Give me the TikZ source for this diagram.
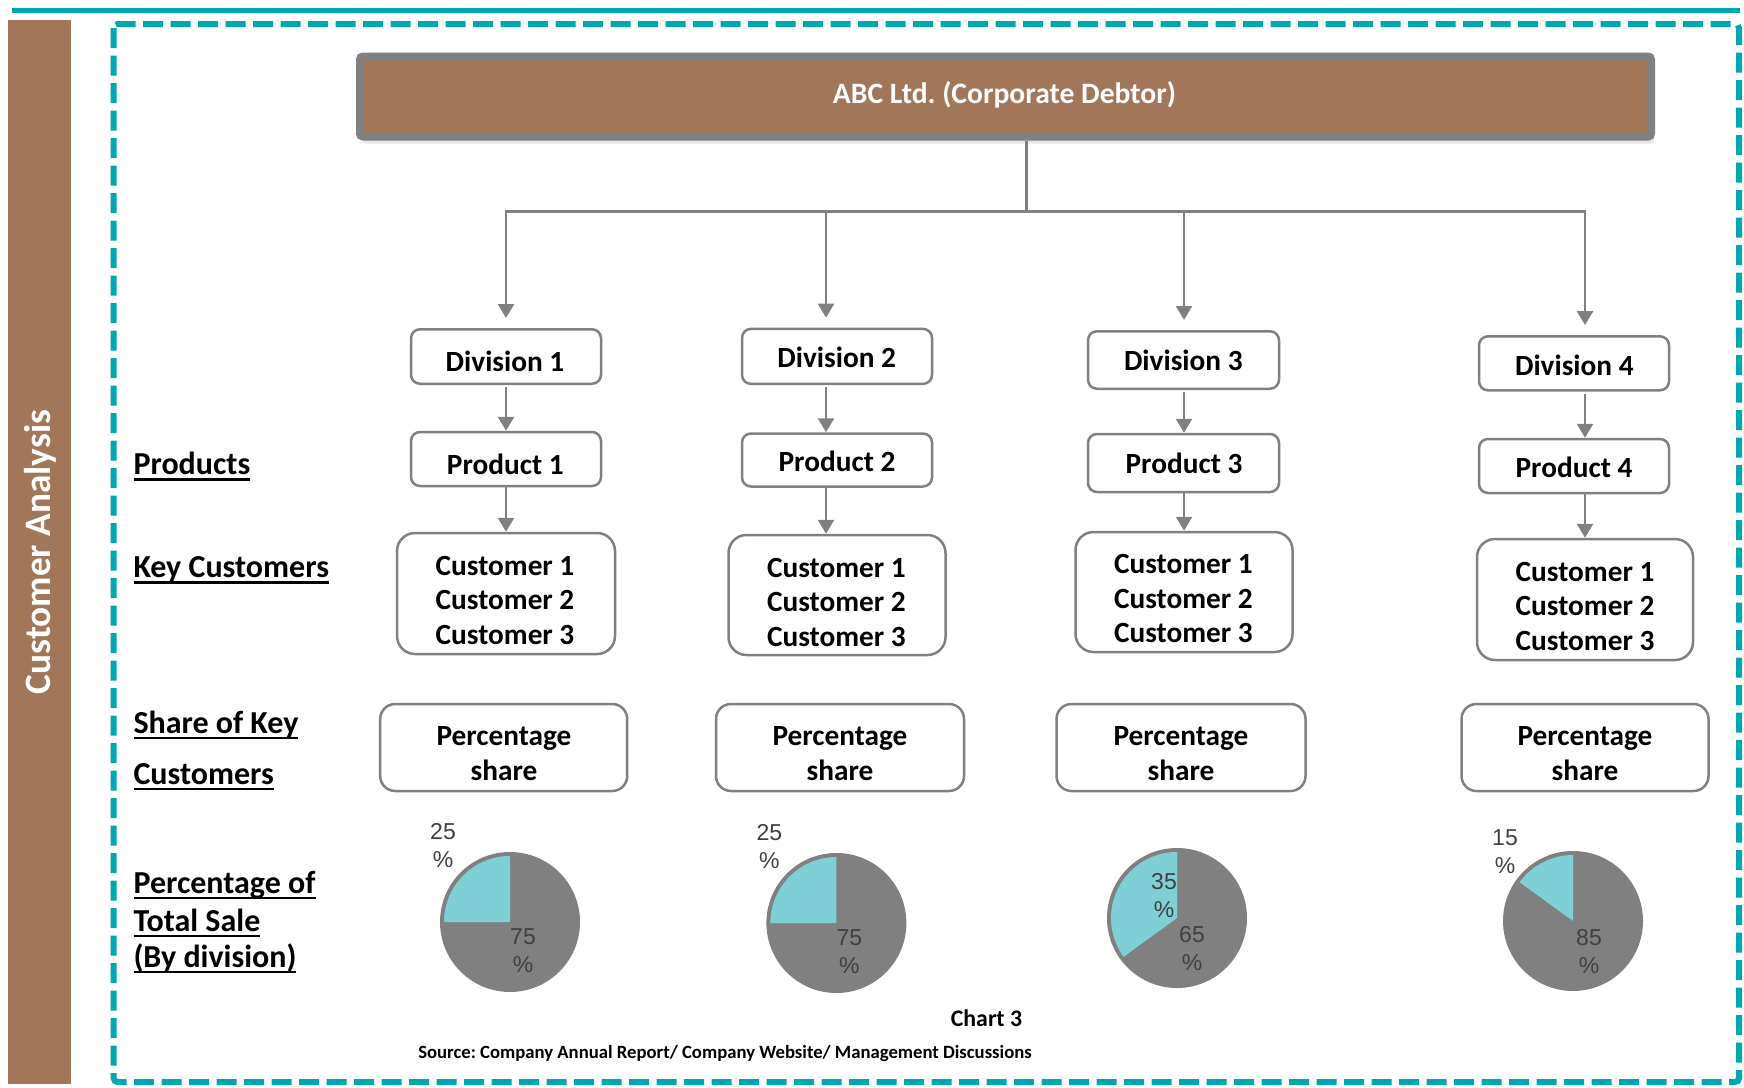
\documentclass[tikz,border=0pt]{standalone}
\usepackage{fontspec}
\setmainfont{Carlito}
\newfontfamily\pielabelfont{Liberation Sans}
\usetikzlibrary{arrows.meta,shadows}

\definecolor{brownfill}{HTML}{A27759}
\definecolor{tealline}{HTML}{00A6B0}
\definecolor{linegray}{HTML}{808080}
\definecolor{pieteal}{HTML}{7FD0D6}
\definecolor{labelgray}{HTML}{404040}

% underline drawn as a rule at a fixed distance below the baseline
\newcommand\ulbox[1]{\setbox0=\hbox{#1}\rlap{\rule[-6pt]{\wd0}{2.2pt}}\box0}

\tikzset{
  boxstyle/.style={draw=linegray, line width=2.5pt, rounded corners=9pt, fill=white, inner sep=0pt},
  custbox/.style={boxstyle, rounded corners=18pt},
  sharebox/.style={boxstyle, rounded corners=15pt},
  boxtext/.style={font=\fontsize{29.3}{34}\selectfont\bfseries, anchor=base, inner sep=0pt},
  sidelabel/.style={font=\fontsize{32}{36}\selectfont\bfseries, anchor=base west, inner sep=0pt},
  pielabel/.style={font=\pielabelfont\fontsize{23}{28}\selectfont, text=labelgray, align=center, inner sep=0pt},
  conn/.style={draw=linegray, line width=2.6pt},
  arr/.style={conn, -{Triangle[length=14pt, width=16pt]}},
}

\begin{document}
\frenchspacing
\begin{tikzpicture}[x=1pt, y=-1pt]
\useasboundingbox (0,0) rectangle (1744,1087);

% side band and frame
\fill[brownfill] (8,19.5) rectangle (71,1084);
\node[rotate=90, text=white, font=\fontsize{37.3}{40}\selectfont\bfseries, inner sep=0pt] (side) at (40,552) {Customer Analysis};
\draw[tealline, line width=4.5pt] (11.5,10.3) -- (1739.6,10.3);
\draw[tealline, line width=6pt, dash pattern=on 20pt off 7.5pt, rounded corners=4pt] (113.7,24) rectangle (1739,1082);

% corporate debtor
\node[draw=linegray, line width=8pt, fill=brownfill, rounded corners=3pt, minimum width=1291pt, minimum height=80pt, inner sep=0pt,
      drop shadow={shadow xshift=3pt, shadow yshift=-7pt, opacity=0.2}] (abc) at (1005.5,96.5) {};
\node[boxtext, text=white, font=\fontsize{29.6}{34}\selectfont\bfseries] (abct) at (1004.5,103) {ABC Ltd. (Corporate Debtor)};

% division boxes
\node[boxstyle, minimum width=190pt, minimum height=54.5pt] (d1) at (506,356.5) {};
\node[boxstyle, minimum width=190pt, minimum height=55pt] (d2) at (837,356.4) {};
\node[boxstyle, minimum width=191pt, minimum height=57.5pt] (d3) at (1183.5,360) {};
\node[boxstyle, minimum width=190pt, minimum height=54pt] (d4) at (1574,363.3) {};
\node[boxtext] (d1t) at (505,371.5) {Division 1};
\node[boxtext] (d2t) at (836.7,367.3) {Division 2};
\node[boxtext] (d3t) at (1183.3,370) {Division 3};
\node[boxtext] (d4t) at (1574.3,375) {Division 4};

% product boxes
\node[boxstyle, minimum width=190pt, minimum height=54pt] (p1) at (506,459) {};
\node[boxstyle, minimum width=190pt, minimum height=53pt] (p2) at (837,460) {};
\node[boxstyle, minimum width=191pt, minimum height=58pt] (p3) at (1183.5,463) {};
\node[boxstyle, minimum width=190pt, minimum height=54pt] (p4) at (1574,466) {};
\node[boxtext] (p1t) at (505.3,474) {Product 1};
\node[boxtext] (p2t) at (837,471.7) {Product 2};
\node[boxtext] (p3t) at (1184,473.3) {Product 3};
\node[boxtext] (p4t) at (1574,477.3) {Product 4};

% key customer boxes
\node[custbox, minimum width=218pt, minimum height=121pt] (c1) at (506,593.5) {};
\node[custbox, minimum width=217pt, minimum height=120pt] (c2) at (837,595) {};
\node[custbox, minimum width=217pt, minimum height=120pt] (c3) at (1184,592) {};
\node[custbox, minimum width=216pt, minimum height=121pt] (c4) at (1585,599.5) {};
\foreach \i/\x/\t in {1/505/532, 2/836.4/534, 3/1183.4/530.5, 4/1585/538}{
  \node[boxtext] (cu\i-1) at (\x,\t+43) {Customer 1};
  \node[boxtext] (cu\i-2) at (\x,\t+77.5) {Customer 2};
  \node[boxtext] (cu\i-3) at (\x,\t+112) {Customer 3};
}

% share boxes
\node[sharebox, minimum width=247pt, minimum height=87pt] (s1) at (503.7,747.5) {};
\node[sharebox, minimum width=248pt, minimum height=87pt] (s2) at (840,747.5) {};
\node[sharebox, minimum width=249pt, minimum height=87pt] (s3) at (1181,747.5) {};
\node[sharebox, minimum width=247pt, minimum height=87pt] (s4) at (1585,747.5) {};
\foreach \i/\x in {1/504, 2/840, 3/1181, 4/1585}{
  \node[boxtext] (sh\i-1) at (\x,745.5) {Percentage};
  \node[boxtext] (sh\i-2) at (\x,780) {share};
}

% row labels
\node[sidelabel] (lp)  at (133.3,474.5) {\ulbox{Products}};
\node[sidelabel] (lk)  at (133.3,577.5) {\ulbox{Key Customers}};
\node[sidelabel] (ls1) at (133.3,733) {\ulbox{Share of Key}};
\node[sidelabel] (ls2) at (133.3,784) {\ulbox{Customers}};
\node[sidelabel] (lt1) at (133.3,893) {\ulbox{Percentage of}};
\node[sidelabel] (lt2) at (133.3,931) {\ulbox{Total Sale}};
\node[sidelabel] (lt3) at (133.3,967) {\ulbox{(By division)}};

% connectors
\coordinate (hub) at (1026.7,211.7);
\coordinate (b1) at (506,211.7);
\coordinate (b2) at (826,211.7);
\coordinate (b3) at (1184,211.7);
\coordinate (b4) at (1585,211.7);
\draw[conn] (abc.south -| hub) -- (hub);
\draw[conn, line cap=rect] (b1) -- (b4);
\foreach \i in {1,2,3,4}{
  \draw[arr, shorten >=10pt] (b\i) -- (b\i |- d\i.north);
  \draw[arr, shorten <=2pt] (d\i.south -| b\i) -- (p\i.north -| b\i);
  \draw[arr] (p\i.south -| b\i) -- (c\i.north -| b\i);
}

% pie charts
\foreach \cx/\cy/\ang in {510/922/180, 836.4/923/180, 1177/918/216, 1573/921/144}{
  \begin{scope}[shift={(\cx,\cy)}, y=1pt]
    \fill[linegray] (0,0) circle[radius=70];
    \fill[pieteal] (0,0) -- (90:66) arc[start angle=90, end angle=\ang, radius=66] -- cycle;
  \end{scope}
}
\node[pielabel] (q1a) at (443,846) {25\\\%};
\node[pielabel] (q1b) at (523,951) {75\\\%};
\node[pielabel] (q2a) at (769.4,847) {25\\\%};
\node[pielabel] (q2b) at (849.4,952) {75\\\%};
\node[pielabel] (q3a) at (1164,896) {35\\\%};
\node[pielabel] (q3b) at (1192,949) {65\\\%};
\node[pielabel] (q4a) at (1505,852) {15\\\%};
\node[pielabel] (q4b) at (1589,952) {85\\\%};

% caption and source
\node[font=\fontsize{23.8}{28}\selectfont\bfseries, anchor=base, inner sep=0pt] (cap) at (986.5,1026) {Chart 3};
\node[font=\fontsize{18.7}{22}\selectfont\bfseries, anchor=base, inner sep=0pt] (src) at (725,1058) {Source: Company Annual Report/ Company Website/ Management Discussions};
\end{tikzpicture}
\end{document}
